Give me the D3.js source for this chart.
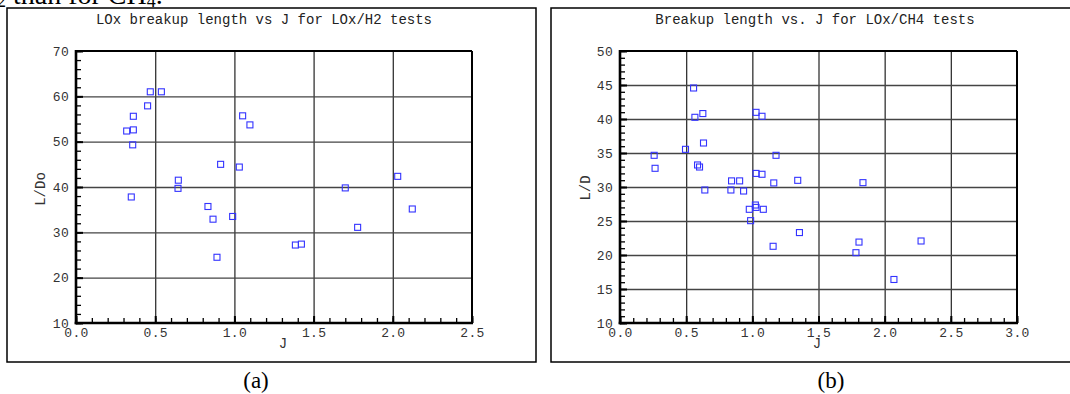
<!DOCTYPE html>
<html><head><meta charset="utf-8">
<script src="https://cdn.jsdelivr.net/npm/d3@7/dist/d3.min.js"></script>
<style>body{margin:0;background:#fff}svg{display:block}</style>
</head><body>
<svg id="c" width="1070" height="394"></svg>
<script>
// ---- Data: LOx/H2 (panel a) ----
const h2J = [0.469,0.539,0.452,0.362,0.320,0.362,0.358,0.349,0.646,0.644,0.913,1.031,1.052,1.098,0.833,0.865,0.989,0.890,2.031,1.700,2.123,1.778,1.385,1.423];
const h2L = [61.0,61.0,57.9,55.6,52.35,52.6,49.3,37.8,41.5,39.7,45.0,44.4,55.7,53.7,35.7,32.9,33.5,24.5,42.35,39.8,35.15,31.1,27.2,27.4];
// ---- Data: LOx/CH4 (panel b) ----
const ch4J = [0.556,0.566,0.626,1.028,1.073,0.631,0.495,0.258,0.265,1.179,0.586,0.601,1.028,1.073,0.843,0.904,1.162,1.343,0.641,0.838,0.934,1.836,0.977,1.023,1.028,1.083,0.987,1.157,1.356,1.806,1.783,2.275,2.070];
const ch4L = [44.56,40.25,40.8,40.98,40.4,36.47,35.54,34.66,32.75,34.66,33.24,32.94,32.0,31.87,30.9,30.9,30.6,30.98,29.56,29.56,29.41,30.64,26.72,27.35,27.0,26.72,25.05,21.28,23.3,21.9,20.34,22.06,16.4];
// ---- Tick labels ----
const xTicksA = [0.0,0.5,1.0,1.5,2.0,2.5];
const yTicksA = [10,20,30,40,50,60,70];
const xTicksB = [0.0,0.5,1.0,1.5,2.0,2.5,3.0];
const yTicksB = [10,15,20,25,30,35,40,45,50];
const titles = ["LOx breakup length vs J for LOx/H2 tests","Breakup length vs. J for LOx/CH4 tests"];
const yTitles = ["L/Do","L/D"];
const xTitle = "J";
const captions = ["(a)","(b)"];

const svg = d3.select("#c");
const mono = "'Liberation Mono','Courier New',monospace";
const serif = "'Liberation Serif','Times New Roman',serif";

// partial text from the page above (cropped)
const topText = svg.append("text").attr("x",-3).attr("y",4).attr("font-family",serif).attr("font-size",28).attr("fill","#000");
topText.append("tspan").attr("font-size",18).attr("dy",3).text("2");
topText.append("tspan").attr("dy",-3).text(" than for CH");
topText.append("tspan").attr("font-size",18).attr("dy",3).text("4");
topText.append("tspan").attr("dy",-3).text(".");

const panels = [
  {J:h2J,L:h2L,xt:xTicksA,yt:yTicksA,xMinor:0.1,yMinor:2,box:[7,8,536,362],plot:[76,51,472,323],
   title:titles[0],titleX:264,ylab:yTitles[0],ylabX:40,ylabY:189,jX:283,cap:captions[0],capX:256},
  {J:ch4J,L:ch4L,xt:xTicksB,yt:yTicksB,xMinor:0.1,yMinor:1,box:[551,8,1080,362],plot:[620,51,1017,323],
   title:titles[1],titleX:815,ylab:yTitles[1],ylabX:585,ylabY:188,jX:817,cap:captions[1],capX:831}
];

panels.forEach(p=>{
  const [bx0,by0,bx1,by1] = p.box;
  const [px0,py0,px1,py1] = p.plot;
  const W = px1-px0, H = py1-py0;
  svg.append("rect").attr("x",bx0).attr("y",by0).attr("width",bx1-bx0).attr("height",by1-by0)
     .attr("fill","none").attr("stroke","#000").attr("stroke-width",1.5);
  const x = d3.scaleLinear().domain(d3.extent(p.xt)).range([0,W]);
  const y = d3.scaleLinear().domain(d3.extent(p.yt)).range([H,0]);
  const g = svg.append("g").attr("transform",`translate(${px0},${py0})`);

  // gridlines
  const gx = g.append("g").attr("transform",`translate(0,${H})`)
    .call(d3.axisBottom(x).tickValues(p.xt.slice(1,-1)).tickSize(-H).tickFormat(""));
  gx.select(".domain").remove();
  gx.selectAll("line").attr("stroke","#333").attr("stroke-width",1.3);
  const gy = g.append("g").call(d3.axisLeft(y).tickValues(p.yt.slice(1,-1)).tickSize(-W).tickFormat(""));
  gy.select(".domain").remove();
  gy.selectAll("line").attr("stroke","#444").attr("stroke-width",1.3);

  // minor ticks (inside)
  const xd = x.domain(), yd = y.domain();
  const xm = d3.range(Math.round((xd[1]-xd[0])/p.xMinor)+1).map(i=>xd[0]+i*p.xMinor);
  const ym = d3.range(Math.round((yd[1]-yd[0])/p.yMinor)+1).map(i=>yd[0]+i*p.yMinor);
  const mx = g.append("g").attr("transform",`translate(0,${H})`)
    .call(d3.axisBottom(x).tickValues(xm).tickSize(-5).tickFormat(""));
  mx.select(".domain").remove();
  mx.selectAll("line").attr("stroke","#000").attr("stroke-width",1.3);
  const Mx = g.append("g").attr("transform",`translate(0,${H})`)
    .call(d3.axisBottom(x).tickValues(p.xt).tickSize(-7).tickFormat(""));
  Mx.select(".domain").remove();
  Mx.selectAll("line").attr("stroke","#000").attr("stroke-width",2);
  const my = g.append("g").call(d3.axisLeft(y).tickValues(ym).tickSize(-5).tickFormat(""));
  my.select(".domain").remove();
  my.selectAll("line").attr("stroke","#000").attr("stroke-width",1.3);
  const My = g.append("g").call(d3.axisLeft(y).tickValues(p.yt).tickSize(-7).tickFormat(""));
  My.select(".domain").remove();
  My.selectAll("line").attr("stroke","#000").attr("stroke-width",2);

  // frame: top/right thinner, left/bottom thick axes
  g.append("line").attr("x1",0).attr("x2",W).attr("y1",0).attr("y2",0).attr("stroke","#000").attr("stroke-width",2);
  g.append("line").attr("x1",W).attr("x2",W).attr("y1",0).attr("y2",H).attr("stroke","#000").attr("stroke-width",2);
  g.append("line").attr("x1",0).attr("x2",0).attr("y1",-1).attr("y2",H+1.2).attr("stroke","#000").attr("stroke-width",2.6);
  g.append("line").attr("x1",-1.3).attr("x2",W+1).attr("y1",H).attr("y2",H).attr("stroke","#000").attr("stroke-width",2.6);

  // tick labels
  const lx = g.append("g").attr("transform",`translate(0,${H})`)
    .call(d3.axisBottom(x).tickValues(p.xt).tickSize(0).tickPadding(5).tickFormat(d3.format(".1f")));
  lx.select(".domain").remove();
  lx.selectAll("text").attr("font-family",mono).attr("font-size",13).attr("fill","#333").attr("letter-spacing",0.3);
  const ly = g.append("g")
    .call(d3.axisLeft(y).tickValues(p.yt).tickSize(0).tickPadding(7).tickFormat(d3.format("d")));
  ly.select(".domain").remove();
  ly.selectAll("text").attr("font-family",mono).attr("font-size",13).attr("fill","#333").attr("letter-spacing",0.3);

  // points
  g.append("g").selectAll("rect").data(p.J.map((j,i)=>[j,p.L[i]])).join("rect")
    .attr("x",d=>x(d[0])-3).attr("y",d=>y(d[1])-3).attr("width",6).attr("height",6)
    .attr("fill","none").attr("stroke","#3333ff").attr("stroke-width",1.1);

  // titles
  svg.append("text").attr("x",p.titleX).attr("y",24).attr("text-anchor","middle")
    .attr("font-family",mono).attr("font-size",14).attr("fill","#222").text(p.title);
  svg.append("text").attr("x",p.jX).attr("y",348).attr("text-anchor","middle")
    .attr("font-family",mono).attr("font-size",14).attr("fill","#333").text(xTitle);
  svg.append("text").attr("transform",`translate(${p.ylabX+5},${p.ylabY}) rotate(-90)`).attr("text-anchor","middle")
    .attr("font-family",mono).attr("font-size",14).attr("fill","#333").text(p.ylab);
  svg.append("text").attr("x",p.capX).attr("y",388).attr("text-anchor","middle")
    .attr("font-family",serif).attr("font-size",23).attr("fill","#000").text(p.cap);
});
</script>
</body></html>
